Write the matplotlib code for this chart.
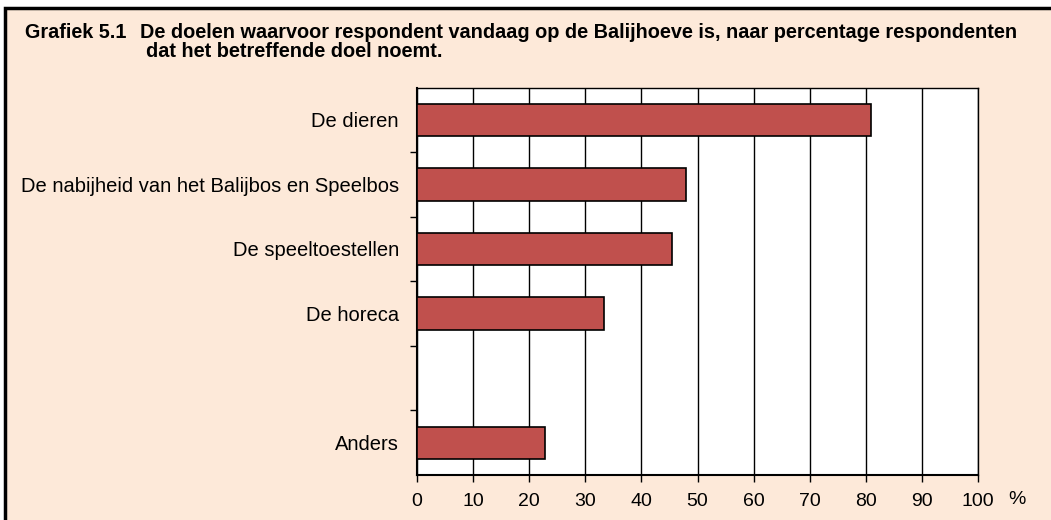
import matplotlib
matplotlib.use("Agg")
import matplotlib.pyplot as plt
from matplotlib.patches import Rectangle

# data (percentage of respondents)
categories = ["De dieren", "De nabijheid van het Balijbos en Speelbos",
              "De speeltoestellen", "De horeca", "", "Anders"]
values = [81.0, 47.9, 45.5, 33.3, None, 22.8]
xticks = [0, 10, 20, 30, 40, 50, 60, 70, 80, 90, 100]
titleLines = ["De doelen waarvoor respondent vandaag op de Balijhoeve is, naar percentage respondenten",
              "dat het betreffende doel noemt."]

bgColor = "#FDE9D9"
barColor = "#C0504D"
plt.rcParams["font.family"] = ["Liberation Sans", "DejaVu Sans"]

fig = plt.figure(figsize=(10.51, 5.2), dpi=100)
fig.patch.set_facecolor("white")
# peach panel with black frame
frame = Rectangle((5/1051, -0.05), 1.1, (520-8)/520 + 0.05, transform=fig.transFigure,
                  facecolor=bgColor, edgecolor="black", linewidth=2.5, zorder=-10)
fig.add_artist(frame)

ax = fig.add_axes([417/1051, (520-475)/520, (978-417)/1051, (475-87.5)/520])
ax.set_zorder(5)
ax.set_facecolor("white")
ax.set_xlim(0, 100)
ax.set_ylim(len(categories), 0)

for i, v in enumerate(values):
    if v is None:
        continue
    ax.barh(i + 0.5, v, height=0.5, color=barColor, edgecolor="black", linewidth=1.2, zorder=3)

ax.set_xticks(xticks)
ax.set_xticklabels([str(t) for t in xticks], fontsize=14)
ax.xaxis.grid(True, color="black", linewidth=1.0, zorder=1)
ax.set_axisbelow(True)
ax.tick_params(axis="x", length=5, width=1, pad=8, direction="out", colors="black")

ax.set_yticks(range(1, len(categories)))
ax.set_yticklabels([])
ax.set_yticks([i + 0.5 for i in range(len(categories))], minor=True)
ax.set_yticklabels(categories, minor=True, fontsize=14.5)
ax.tick_params(axis="y", which="major", length=5, width=1)
ax.tick_params(axis="y", which="minor", length=0, pad=13)

for s in ["left", "bottom"]:
    ax.spines[s].set_linewidth(1.5)
for s in ["top", "right"]:
    ax.spines[s].set_linewidth(1.0)

fig.text(1008/1051, (520-500)/520, "%", fontsize=14, ha="left", va="center", zorder=6)

fig.text(25/1051, (520-38)/520, "Grafiek 5.1", fontsize=14.2, fontweight="bold",
         ha="left", va="baseline")
fig.text(140/1051, (520-38)/520, titleLines[0], fontsize=14.3, fontweight="bold",
         ha="left", va="baseline")
fig.text(146/1051, (520-57)/520, titleLines[1], fontsize=14.3, fontweight="bold",
         ha="left", va="baseline")

fig.savefig("out.png", dpi=100, facecolor=fig.get_facecolor())
